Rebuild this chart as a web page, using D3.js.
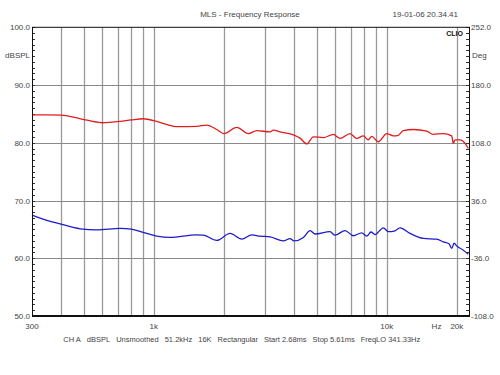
<!DOCTYPE html>
<html>
<head>
<meta charset="utf-8">
<script src="https://cdn.jsdelivr.net/npm/d3@7"></script>
<style>
  body { margin: 0; background: #fff; }
  text { font-family: "Liberation Sans", Arial, sans-serif; fill: #444; }
</style>
</head>
<body>
<div id="chart"></div>
<script>
// ── Data ──────────────────────────────────────────────────────────────────────
const redFreq = [300, 340, 400, 480, 600, 717, 800, 900, 1030, 1150, 1255, 1529, 1689, 1864, 2000,
  2271, 2547, 2767, 3158, 3261, 3484, 4000, 4246, 4537, 4842, 5345, 5898, 6304, 6959, 7435, 7935,
  8337, 8621, 9204, 10000, 10674, 11215, 11783, 13008, 14850, 15849, 17494, 19011, 19314, 19640,
  20640, 21690, 22398];
const redDb = [84.85, 84.85, 84.8, 84.2, 83.47, 83.7, 83.95, 84.16, 83.7, 83.1, 82.8, 82.85, 83.07, 82.3, 81.6,
  82.67, 81.6, 82.1, 81.9, 82.2, 81.9, 81.33, 80.8, 79.8, 81.04, 80.9, 81.45, 80.76, 81.6, 80.76, 81.2,
  80.5, 81.1, 80.17, 81.6, 81.2, 81.3, 82.1, 82.3, 82.0, 81.45, 81.6, 81.2, 79.9, 80.5,
  80.5, 79.9, 79.0];

const blueFreq = [300, 340, 400, 483, 569, 717, 800, 900, 1030, 1175, 1529, 1633, 1864, 2126, 2386,
  2634, 2859, 3158, 3600, 3846, 4000, 4386, 4687, 4924, 5709, 5998, 6622, 7190, 7810, 8206, 8562,
  8910, 9670, 10160, 10855, 11404, 12589, 14360, 16390, 17494, 18500, 19011, 19448, 20000, 21327, 22398];
const blueDb = [67.47, 66.7, 65.9, 65.1, 64.9, 65.16, 65.04, 64.47, 63.83, 63.6, 64.06, 64.0, 63.1, 64.3, 63.3,
  64.06, 63.83, 63.7, 63.0, 63.4, 63.0, 63.6, 64.8, 64.2, 64.6, 64.0, 64.8, 63.9, 64.4, 63.85, 64.55,
  64.1, 65.27, 64.6, 64.75, 65.27, 64.3, 63.43, 63.3, 62.84, 62.5, 61.7, 62.6, 62.1, 61.4, 60.7];

const freqGrid = [400, 500, 600, 700, 800, 900, 1000, 2000, 3000, 4000, 5000, 6000, 7000, 8000, 9000, 10000, 20000];
const freqLabels = [[300, '300'], [1000, '1k'], [10000, '10k'], [20000, '20k']];
const dbTicks = [100, 90, 80, 70, 60, 50];
const degTicks = [252, 180, 108, 36, -36, -108];
const footer = ['CH A', 'dBSPL', 'Unsmoothed', '51.2kHz', '16K', 'Rectangular', 'Start 2.68ms', 'Stop 5.61ms', 'FreqLO 341.33Hz'];

// ── SVG setup ─────────────────────────────────────────────────────────────────
const W = 500, H = 375;
const m = { left: 32, right: 469, top: 27.3, bottom: 316 };

const svg = d3.select('#chart').append('svg')
  .attr('width', W).attr('height', H);

const x = d3.scaleLog().domain([300, 22550]).range([m.left, m.right]);
const y = d3.scaleLinear().domain([50, 100]).range([m.bottom, m.top]);
const yDeg = d3.scaleLinear().domain([-108, 252]).range([m.bottom, m.top]);

// Grid
svg.append('g').selectAll('line')
  .data(freqGrid)
  .join('line')
  .attr('x1', d => Math.round(x(d)) + 0.5).attr('x2', d => Math.round(x(d)) + 0.5)
  .attr('y1', m.top).attr('y2', m.bottom)
  .attr('stroke', '#9a9a9a').attr('stroke-width', 1.3);

svg.append('g').selectAll('line')
  .data(dbTicks.slice(1, -1))
  .join('line')
  .attr('x1', m.left).attr('x2', m.right)
  .attr('y1', d => Math.round(y(d)) + 0.5).attr('y2', d => Math.round(y(d)) + 0.5)
  .attr('stroke', '#8a8a8a').attr('stroke-width', 1.2);

// Minor ticks
svg.append('g').selectAll('line')
  .data(d3.range(50, 100.1, 1))
  .join('line')
  .attr('x1', m.left).attr('x2', m.left + 3)
  .attr('y1', d => Math.round(y(d)) + 0.5).attr('y2', d => Math.round(y(d)) + 0.5)
  .attr('stroke', '#333');

svg.append('g').selectAll('line')
  .data(d3.range(-108, 252.1, 7.2))
  .join('line')
  .attr('x1', m.right - 3).attr('x2', m.right + 1)
  .attr('y1', d => Math.round(yDeg(d)) + 0.5).attr('y2', d => Math.round(yDeg(d)) + 0.5)
  .attr('stroke', '#333');

// Curves
const line = d3.line()
  .x(d => x(d[0]))
  .y(d => y(d[1]))
  .curve(d3.curveMonotoneX);

svg.append('path')
  .datum(d3.zip(blueFreq, blueDb))
  .attr('d', line)
  .attr('fill', 'none').attr('stroke', '#1c1cc8').attr('stroke-width', 1.3);

svg.append('path')
  .datum(d3.zip(redFreq, redDb))
  .attr('d', line)
  .attr('fill', 'none').attr('stroke', '#e01c1c').attr('stroke-width', 1.3);

// Frame
svg.append('rect')
  .attr('x', m.left + 0.5).attr('y', m.top)
  .attr('width', m.right - m.left).attr('height', m.bottom - m.top)
  .attr('fill', 'none').attr('stroke', '#111').attr('stroke-width', 1);
svg.append('line')
  .attr('x1', m.left).attr('x2', m.right + 1)
  .attr('y1', m.bottom).attr('y2', m.bottom)
  .attr('stroke', '#111').attr('stroke-width', 2);

// ── Texts ─────────────────────────────────────────────────────────────────────
const fs = '8px';

svg.append('text').attr('x', 250).attr('y', 17).attr('text-anchor', 'middle')
  .attr('font-size', fs).text('MLS - Frequency Response');
svg.append('text').attr('x', 458).attr('y', 17).attr('text-anchor', 'end')
  .attr('font-size', fs).text('19-01-06 20.34.41');

svg.append('text').attr('x', 463).attr('y', 35.5).attr('text-anchor', 'end')
  .attr('font-size', '7px').attr('font-weight', 'bold').style('fill', '#111')
  .text('CLIO');

svg.append('g').selectAll('text')
  .data(dbTicks)
  .join('text')
  .attr('x', 30).attr('y', d => y(d) + 3)
  .attr('text-anchor', 'end').attr('font-size', fs)
  .text(d => d.toFixed(1));

svg.append('g').selectAll('text')
  .data(degTicks)
  .join('text')
  .attr('x', 471).attr('y', d => yDeg(d) + 3)
  .attr('font-size', fs)
  .text(d => d.toFixed(1));

svg.append('text').attr('x', 30).attr('y', 58).attr('text-anchor', 'end')
  .attr('font-size', fs).text('dBSPL');
svg.append('text').attr('x', 472).attr('y', 58)
  .attr('font-size', fs).text('Deg');

svg.append('g').selectAll('text')
  .data(freqLabels)
  .join('text')
  .attr('x', d => x(d[0])).attr('y', 328.5)
  .attr('text-anchor', 'middle').attr('font-size', fs)
  .text(d => d[1]);
svg.append('text').attr('x', 436.5).attr('y', 328.5).attr('text-anchor', 'middle')
  .attr('font-size', fs).text('Hz');

// Footer, laid out left to right with a fixed gap
let fx = 63.3;
const footG = svg.append('g');
footer.forEach(s => {
  const t = footG.append('text').attr('x', fx).attr('y', 341.5)
    .attr('font-size', '7.5px').text(s);
  fx += t.node().getComputedTextLength() + 6;
});
</script>
</body>
</html>
